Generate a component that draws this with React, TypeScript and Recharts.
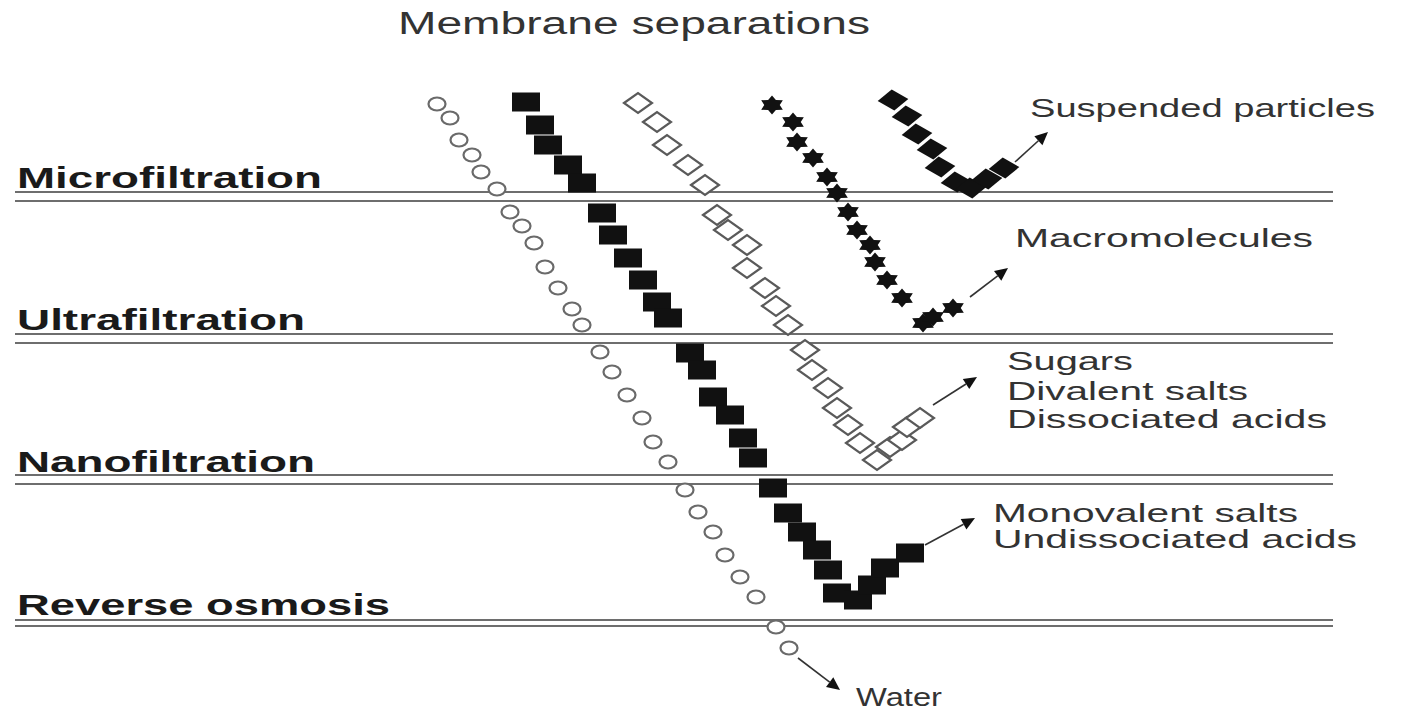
import { ScatterChart, Scatter, XAxis, YAxis, ReferenceLine } from 'recharts';

// marker centres (x to the right, y downward)
const circles: [number, number][] = [
  [437, 104], [450, 118], [459, 140], [472, 155], [481, 172], [497, 189], [510, 212],
  [522, 226], [534, 243], [545, 267], [558, 288], [572, 309], [582, 325], [600, 352],
  [612, 372], [627, 395], [642, 418], [653, 442], [668, 462], [685, 490], [698, 512],
  [713, 532], [725, 555], [740, 577], [756, 597], [776, 627], [789, 648],
];

const squares: [number, number][] = [
  [526, 102], [540, 125], [548, 145], [568, 165], [582, 183], [602, 213], [613, 235],
  [628, 258], [643, 280], [657, 302], [668, 318], [690, 353], [702, 370], [713, 397],
  [730, 415], [743, 438], [753, 458], [773, 488], [788, 513], [802, 532], [817, 550],
  [828, 570], [837, 593], [858, 600], [872, 585], [885, 568], [910, 553],
];

const openDiamonds: [number, number][] = [
  [638, 103], [657, 122], [667, 145], [688, 165], [705, 185], [717, 215], [728, 230],
  [747, 245], [747, 268], [765, 288], [776, 306], [788, 325], [805, 350], [812, 370],
  [828, 388], [837, 408], [848, 425], [860, 443], [877, 460], [890, 447], [902, 440],
  [907, 427], [920, 418],
];

const stars: [number, number][] = [
  [772, 105], [793, 122], [797, 142], [813, 158], [827, 177], [837, 193], [848, 212],
  [857, 230], [870, 245], [875, 262], [887, 280], [902, 298], [923, 323], [933, 317],
  [953, 308],
];

const filledDiamonds: [number, number][] = [
  [893, 100], [907, 116], [917, 134], [932, 149], [940, 167], [956, 182], [971, 188],
  [987, 179], [1004, 168],
];

// arrows: [x1, y1, x2, y2]
const arrows: [number, number, number, number][] = [
  [798, 658, 840, 690],
  [925, 545, 975, 518],
  [933, 405, 977, 377],
  [970, 297, 1008, 268],
  [1015, 162, 1048, 132],
];

const stageNames = ['Microfiltration', 'Ultrafiltration', 'Nanofiltration', 'Reverse osmosis'];
const stageBaselines = [188, 330, 472, 615];
const stageEnds = [322, 305, 315, 390];
const membraneLines: [number, number][] = [[192, 201], [334, 343], [475, 484], [620, 626]];

const productNames = [
  'Suspended particles', 'Macromolecules', 'Sugars', 'Divalent salts',
  'Dissociated acids', 'Monovalent salts', 'Undissociated acids', 'Water',
];
const productX = [1030, 1015, 1007, 1007, 1007, 993, 993, 856];
const productY = [117, 247, 370, 400, 428, 522, 548, 706];
const productEnd = [1375, 1313, 1133, 1248, 1327, 1298, 1357, 942];

const title = 'Membrane separations';

const FONT = '"Liberation Sans", Arial, Helvetica, sans-serif';

const pts = (arr: [number, number][]) => arr.map(([x, y]) => ({ x, y }));

const stageLabels = stageNames.map((text, i) => ({ x: 17, y: stageBaselines[i], text, w: stageEnds[i] - 17 }));
const productLabels = productNames.map((text, i) => ({ x: productX[i], y: productY[i], text, w: productEnd[i] - productX[i] }));
const titleLabel = [{ x: 398, y: 34, text: title, w: 472 }];

const EllipseShape = (p: any) => (
  <ellipse cx={p.cx} cy={p.cy} rx={8.5} ry={6.5} fill="#fff" stroke="#6a6a6a" strokeWidth={2.2} />
);

const SquareShape = (p: any) => (
  <rect x={p.cx - 14} y={p.cy - 9.5} width={28} height={19} fill="#111" />
);

const OpenDiamondShape = (p: any) => {
  const { cx, cy } = p;
  return (
    <polygon
      points={`${cx - 14},${cy} ${cx},${cy - 10} ${cx + 14},${cy} ${cx},${cy + 10}`}
      fill="#fff"
      stroke="#5a5a5a"
      strokeWidth={2.2}
    />
  );
};

const StarShape = (p: any) => {
  const { cx, cy } = p;
  const out: string[] = [];
  for (let i = 0; i < 12; i++) {
    const a = (Math.PI / 6) * i - Math.PI / 2;
    const r = i % 2 === 0 ? 1 : 0.62;
    out.push(`${cx + Math.cos(a) * r * 12.5},${cy + Math.sin(a) * r * 9.5}`);
  }
  return <polygon points={out.join(' ')} fill="#111" />;
};

const FilledDiamondShape = (p: any) => {
  const { cx, cy } = p;
  const ang = (40 * Math.PI) / 180;
  const corners = [[-7.5, -7.5], [7.5, -7.5], [7.5, 7.5], [-7.5, 7.5]].map(([a, b]) => {
    const rx = a * Math.cos(ang) - b * Math.sin(ang);
    const ry = a * Math.sin(ang) + b * Math.cos(ang);
    return `${cx + rx * 1.45},${cy + ry}`;
  });
  return <polygon points={corners.join(' ')} fill="#111" />;
};

const makeText = (size: number, weight: string, fill: string) => (p: any) => (
  <text
    x={p.cx}
    y={p.cy}
    fontSize={size}
    fontWeight={weight}
    fill={fill}
    fontFamily={FONT}
    textLength={p.payload.w}
    lengthAdjust="spacingAndGlyphs"
  >
    {p.payload.text}
  </text>
);

const ArrowShape = (p: any) => {
  const { x1, y1, x2, y2 } = p;
  const ang = Math.atan2(y2 - y1, x2 - x1);
  const len = 13;
  const half = 6;
  const bx = x2 - Math.cos(ang) * len;
  const by = y2 - Math.sin(ang) * len;
  const nx = -Math.sin(ang) * half;
  const ny = Math.cos(ang) * half;
  return (
    <g>
      <line x1={x1} y1={y1} x2={bx} y2={by} stroke="#333" strokeWidth={1.6} />
      <polygon points={`${x2},${y2} ${bx + nx},${by + ny} ${bx - nx},${by - ny}`} fill="#111" />
    </g>
  );
};

export default function App() {
  return (
    <div style={{ position: 'absolute', left: 0, top: 0, width: 1411, height: 710, background: '#fff' }}>
      <ScatterChart width={1411} height={710} margin={{ top: 0, right: 0, bottom: 0, left: 0 }}>
        <XAxis type="number" dataKey="x" domain={[0, 1411]} hide allowDataOverflow />
        <YAxis type="number" dataKey="y" domain={[0, 710]} reversed hide allowDataOverflow />

        {membraneLines.flatMap(([a, b], i) => [
          <ReferenceLine key={`la${i}`} segment={[{ x: 15, y: a }, { x: 1333, y: a }]} stroke="#6e6e6e" strokeWidth={2} ifOverflow="visible" />,
          <ReferenceLine key={`lb${i}`} segment={[{ x: 15, y: b }, { x: 1333, y: b }]} stroke="#6e6e6e" strokeWidth={2} ifOverflow="visible" />,
        ])}

        {arrows.map(([x1, y1, x2, y2], i) => (
          <ReferenceLine key={`ar${i}`} segment={[{ x: x1, y: y1 }, { x: x2, y: y2 }]} shape={ArrowShape} ifOverflow="visible" />
        ))}

        <Scatter data={pts(circles)} shape={EllipseShape} isAnimationActive={false} />
        <Scatter data={pts(squares)} shape={SquareShape} isAnimationActive={false} />
        <Scatter data={pts(openDiamonds)} shape={OpenDiamondShape} isAnimationActive={false} />
        <Scatter data={pts(stars)} shape={StarShape} isAnimationActive={false} />
        <Scatter data={pts(filledDiamonds)} shape={FilledDiamondShape} isAnimationActive={false} />

        <Scatter data={titleLabel} shape={makeText(31, 'normal', '#333')} isAnimationActive={false} />
        <Scatter data={stageLabels} shape={makeText(29, 'bold', '#1a1a1a')} isAnimationActive={false} />
        <Scatter data={productLabels} shape={makeText(25, 'normal', '#333')} isAnimationActive={false} />
      </ScatterChart>
    </div>
  );
}
